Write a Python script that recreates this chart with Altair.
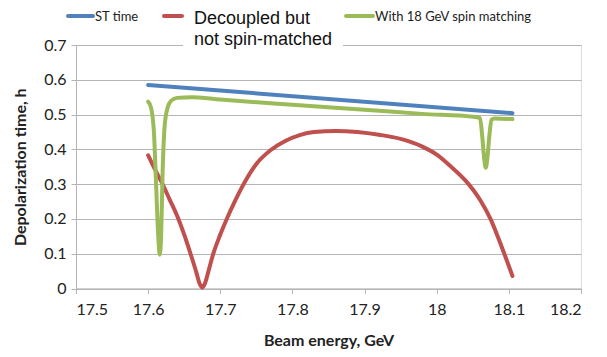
import altair as alt
import pandas as pd

# ---- data ----
st_energy = [17.600, 18.105]
st_time = [0.585, 0.504]

dec_energy = [17.600, 17.610, 17.620, 17.630, 17.640, 17.650, 17.660, 17.667, 17.671,
              17.675, 17.679, 17.683, 17.690, 17.700, 17.710, 17.720, 17.735, 17.750,
              17.770, 17.790, 17.810, 17.830, 17.860, 17.890, 17.920, 17.950, 17.980,
              18.000, 18.020, 18.040, 18.060, 18.075, 18.090, 18.105]
dec_time = [0.383, 0.340, 0.300, 0.255, 0.210, 0.155, 0.092, 0.045, 0.016,
            0.003, 0.016, 0.045, 0.098, 0.155, 0.205, 0.250, 0.310, 0.358,
            0.398, 0.424, 0.441, 0.450, 0.453, 0.450, 0.442, 0.430, 0.408,
            0.385, 0.350, 0.310, 0.255, 0.198, 0.120, 0.036]

sm_energy = [17.600, 17.604, 17.608, 17.611, 17.614, 17.616, 17.618, 17.620, 17.623,
             17.627, 17.632, 17.640, 17.660, 17.700, 17.800, 17.900, 17.980, 18.050,
             18.060, 18.063, 18.066, 18.068, 18.070, 18.073, 18.076, 18.080, 18.105]
sm_time = [0.537, 0.520, 0.450, 0.300, 0.150, 0.097, 0.150, 0.330, 0.470,
           0.520, 0.540, 0.548, 0.550, 0.543, 0.528, 0.514, 0.502, 0.494,
           0.490, 0.440, 0.370, 0.347, 0.370, 0.440, 0.485, 0.489, 0.487]

series_names = ["ST time", "Decoupled but not spin-matched", "With 18 GeV spin matching"]
series_colors = ["#4F81BD", "#C0504D", "#9BBB59"]

x_ticks = [17.5, 17.6, 17.7, 17.8, 17.9, 18.0, 18.1, 18.2]
y_ticks = [0, 0.1, 0.2, 0.3, 0.4, 0.5, 0.6, 0.7]

rows = []
for i, (ex, ys) in enumerate([(st_energy, st_time), (dec_energy, dec_time), (sm_energy, sm_time)]):
    for k, (e, t) in enumerate(zip(ex, ys)):
        rows.append({"energy": e, "time": t, "series": series_names[i], "order": k})
df = pd.DataFrame(rows)
one = pd.DataFrame({"k": [0]})

FONT = "Lato"
GRID = "#b5b5b5"

color_scale = alt.Scale(domain=series_names, range=series_colors)

lines = alt.Chart(df).mark_line(strokeWidth=4, interpolate="monotone", strokeCap="round").encode(
    x=alt.X("energy:Q", scale=alt.Scale(domain=[17.5, 18.2], nice=False),
            axis=alt.Axis(values=x_ticks, format="~g", title="Beam energy, GeV", grid=False,
                          domainColor=GRID, tickColor=GRID, tickSize=5,
                          labelFont=FONT, labelFontSize=16, labelColor="#222222", labelPadding=8,
                          titleFont=FONT, titleFontSize=16, titleFontWeight="bold",
                          titleColor="#222222", titlePadding=15)),
    y=alt.Y("time:Q", scale=alt.Scale(domain=[0, 0.7], nice=False),
            axis=alt.Axis(values=y_ticks, format="~g", title="Depolarization time, h",
                          gridColor=GRID, domainColor=GRID, tickColor=GRID, tickSize=5,
                          labelFont=FONT, labelFontSize=16, labelColor="#222222", labelPadding=5,
                          titleFont=FONT, titleFontSize=16, titleFontWeight="bold",
                          titleColor="#222222", titlePadding=15)),
    color=alt.Color("series:N", scale=color_scale, legend=None),
    detail="series:N",
    order="order:Q",
)

# ---- manual legend ----
leg_blank = alt.Chart(one).mark_rect(color="white").encode(
    x=alt.value(107), x2=alt.value(267), y=alt.value(-3), y2=alt.value(3))

leg_blue = alt.Chart(one).mark_rule(color=series_colors[0], strokeWidth=4, strokeCap="round").encode(
    x=alt.value(-8), x2=alt.value(17), y=alt.value(-29))
leg_red = alt.Chart(one).mark_rule(color=series_colors[1], strokeWidth=4, strokeCap="round").encode(
    x=alt.value(88), x2=alt.value(106), y=alt.value(-29))
leg_green = alt.Chart(one).mark_rule(color=series_colors[2], strokeWidth=4, strokeCap="round").encode(
    x=alt.value(270), x2=alt.value(297), y=alt.value(-29))

t_blue = alt.Chart(one).mark_text(align="left", baseline="middle", font=FONT, fontSize=13,
                                  color="#222222", text=series_names[0]).encode(
    x=alt.value(19), y=alt.value(-28))
t_red = alt.Chart(one).mark_text(align="left", baseline="middle", font="Liberation Sans", fontSize=18,
                                 color="#111111", text=["Decoupled but", "not spin-matched"],
                                 lineHeight=21).encode(
    x=alt.value(118), y=alt.value(-26))
t_green = alt.Chart(one).mark_text(align="left", baseline="middle", font=FONT, fontSize=13,
                                   color="#222222", text=series_names[2]).encode(
    x=alt.value(299), y=alt.value(-28))

chart = alt.layer(lines, leg_blank, leg_blue, leg_red, leg_green, t_blue, t_red, t_green).properties(
    width=505, height=243.5,
    autosize=alt.AutoSizeParams(type="none"),
    padding={"left": 68, "top": 37, "right": 10, "bottom": 68},
).configure_view(stroke=None).configure(background="white")

chart.save("out.html", embed_options={"renderer": "svg", "actions": False})
